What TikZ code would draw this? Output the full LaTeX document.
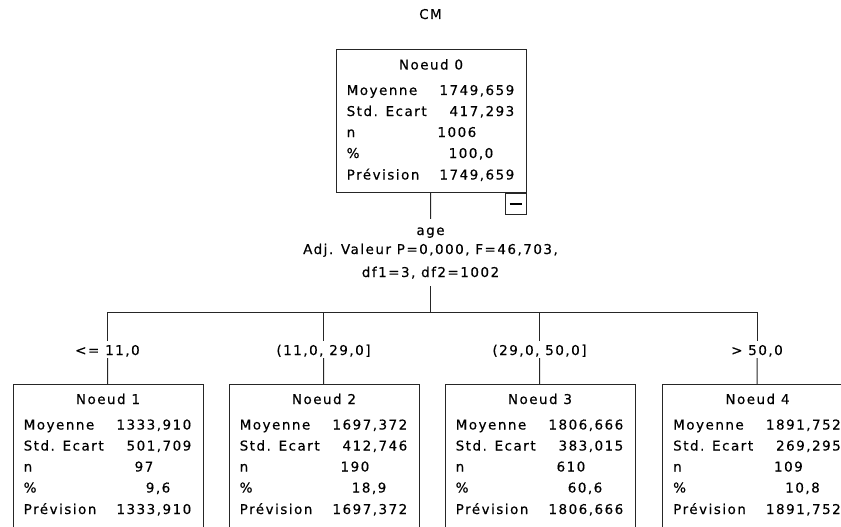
\documentclass[tikz,border=0pt]{standalone}
\usepackage{fontspec}
\setmainfont{DejaVu Sans}[LetterSpace=11, FakeBold=0.4]
\usetikzlibrary{calc}

\tikzset{
  treeline/.style={draw=black!85, line width=1pt},
  statbox/.style={treeline, rectangle, minimum width=190pt, minimum height=142.5pt,
                  inner sep=0pt, anchor=north west},
  txt/.style={inner sep=0pt, font=\fontsize{13.5}{16}\selectfont, text=black},
  rowlabel/.style={txt, anchor=base west},
  rowvalue/.style={txt, anchor=base east},
  boxtitle/.style={txt, anchor=base},
  cutlabel/.style={txt, anchor=base, text height=14pt, text depth=3pt},
  togglebox/.style={treeline, minimum size=21pt, inner sep=0pt, anchor=north east},
}

% one tree node: name, x, y (top left), title, mean, std. dev., n, percent, prediction
\newcommand\statnode[9]{%
  \node[statbox] (#1) at (#2,#3) {};
  \node[boxtitle] (#1-title) at ($(#1.north)+(0,20)$) {#4};
  \node[rowlabel] (#1-lm) at ($(#1.north west)+(11,45.5)$) {Moyenne};
  \node[rowvalue] (#1-vm) at ($(#1.north west)+(179,45.5)$) {#5};
  \node[rowlabel] (#1-ls) at ($(#1.north west)+(11,66.5)$) {Std. Ecart};
  \node[rowvalue] (#1-vs) at ($(#1.north west)+(179,66.5)$) {#6};
  \node[rowlabel] (#1-ln) at ($(#1.north west)+(11,87.5)$) {n};
  \node[rowvalue] (#1-vn) at ($(#1.north west)+(141,87.5)$) {#7};
  \node[rowlabel] (#1-lp) at ($(#1.north west)+(11,108.5)$) {\%};
  \node[rowvalue] (#1-vp) at ($(#1.north west)+(158,108.5)$) {#8};
  \node[rowlabel] (#1-lf) at ($(#1.north west)+(11,130)$) {Prévision};
  \node[rowvalue] (#1-vf) at ($(#1.north west)+(179,130)$) {#9};
}

\begin{document}
\begin{tikzpicture}[x=1pt, y=-1pt]
  \useasboundingbox (0,0) rectangle (841,527);
  \clip (0,0) rectangle (841,527);

  \node[boxtitle] (heading) at (430.5,19) {CM};

  % root
  \statnode{box0}{335.5}{49.5}{Noeud 0}{1749,659}{417,293}{1006}{100,0}{1749,659}
  \node[togglebox] (toggle) at (box0.south east) {\rule{12pt}{1.2pt}};

  % split description
  \node[txt, anchor=base, text height=16pt] (split-var) at (430.5,235) {age};
  \node[txt, anchor=base] (split-stat) at (430.5,254) {Adj. Valeur P=0,000, F=46,703,};
  \node[txt, anchor=base, text depth=9pt] (split-df) at (430.5,277) {df1=3, df2=1002};

  % children
  \statnode{box1}{12.5}{384}{Noeud 1}{1333,910}{501,709}{97}{9,6}{1333,910}
  \statnode{box2}{228.5}{384}{Noeud 2}{1697,372}{412,746}{190}{18,9}{1697,372}
  \statnode{box3}{444.5}{384}{Noeud 3}{1806,666}{383,015}{610}{60,6}{1806,666}
  \statnode{box4}{662}{384}{Noeud 4}{1891,752}{269,295}{109}{10,8}{1891,752}

  % branch conditions
  \node[cutlabel] (cut1) at (107.5,355) {<= 11,0};
  \node[cutlabel] (cut2) at (323.5,355) {(11,0, 29,0]};
  \node[cutlabel] (cut3) at (539.5,355) {(29,0, 50,0]};
  \node[cutlabel] (cut4) at (757,355) {> 50,0};

  % junction points on the bar
  \coordinate (bar) at (430.5,312);
  \coordinate (j1) at (107.5,312);
  \coordinate (j2) at (323.5,312);
  \coordinate (j3) at (539.5,312);
  \coordinate (j4) at (757,312);

  % connectors
  \draw[treeline] (box0) -- (split-var);
  \draw[treeline] (split-df) -- (bar);
  \draw[treeline] (j1) -- (j4);
  \foreach \i in {1,2,3,4} {
    \draw[treeline] (j\i) -- (cut\i);
    \draw[treeline] (cut\i) -- (box\i);
  }
\end{tikzpicture}
\end{document}
